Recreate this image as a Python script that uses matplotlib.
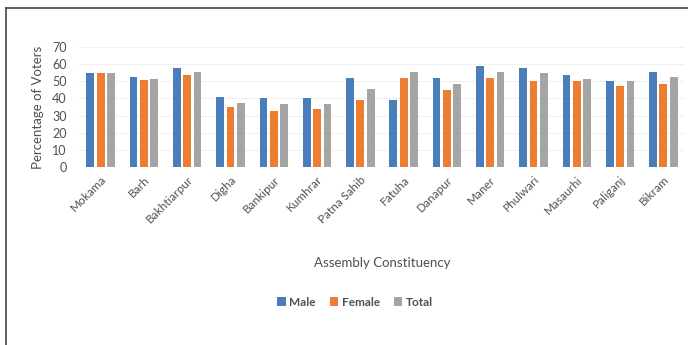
import numpy as np
import matplotlib.pyplot as plt
from matplotlib.lines import Line2D

# turnout by assembly constituency
constituencies = ['Mokama', 'Barh', 'Bakhtiarpur', 'Digha', 'Bankipur', 'Kumhrar',
                  'Patna Sahib', 'Fatuha', 'Danapur', 'Maner', 'Phulwari', 'Masaurhi',
                  'Paliganj', 'Bikram']
male = [55, 52.6, 57.7, 40.7, 40, 40, 51.8, 39, 51.8, 58.9, 57.7, 53.8, 50, 55.7]
female = [55, 50.8, 53.6, 35, 32.7, 33.8, 39, 51.8, 44.8, 51.8, 50, 50, 47.5, 48.7]
total = [55, 51.6, 55.5, 37.5, 36.8, 36.8, 45.4, 55.5, 48.7, 55.5, 54.7, 51.6, 50, 52.6]

plt.rcParams['font.family'] = ['Lato', 'DejaVu Sans']
grey = '#505050'

fig = plt.figure(figsize=(6.88, 3.45), dpi=100)
ax = fig.add_axes([79 / 688, 1 - 167 / 345, 606 / 688, 120 / 345])

x = np.arange(len(constituencies))
w = 0.18
step = 0.24
ax.bar(x - step, male, w, color='#4a7ebb', label='Male', zorder=3)
ax.bar(x, female, w, color='#ed7d31', label='Female', zorder=3)
ax.bar(x + step, total, w, color='#a5a5a5', label='Total', zorder=3)

ax.set_xlim(-0.5, len(constituencies) - 0.5)
ax.set_ylim(0, 70)
ax.set_yticks(range(0, 71, 10))
ax.grid(axis='y', color='#f0f0f0', linewidth=0.8, zorder=0)
for s in ax.spines.values():
    s.set_visible(False)
ax.tick_params(length=0, labelsize=9, colors=grey)
ax.set_xticks(x)
ax.set_xticklabels(constituencies, rotation=45, ha='right', rotation_mode='anchor',
                   fontsize=8.5, color=grey)
ax.tick_params(axis='x', pad=5)
ax.tick_params(axis='y', pad=9)

ax.set_ylabel('Percentage of Voters', fontsize=9.5, color=grey, labelpad=6)
fig.text(382 / 688, 1 - 263 / 345, 'Assembly Constituency', ha='center', va='center',
         fontsize=9.5, color=grey)

handles, labels = ax.get_legend_handles_labels()
fig.legend(handles, labels, loc='center', bbox_to_anchor=(355 / 688, 1 - 302 / 345),
           ncol=3, frameon=False, handlelength=0.7, handleheight=0.7,
           handletextpad=0.3, columnspacing=1.2,
           prop={'size': 8.5, 'weight': 'bold'}, labelcolor=grey)

# box lines along the left and top edge
fig.add_artist(Line2D([6 / 688, 6 / 688], [0, 1 - 8 / 345], transform=fig.transFigure,
                      color='#444444', linewidth=1.2))
fig.add_artist(Line2D([6 / 688, 1], [1 - 8 / 345, 1 - 8 / 345], transform=fig.transFigure,
                      color='#444444', linewidth=1.2))

fig.savefig('out.png', dpi=100)
